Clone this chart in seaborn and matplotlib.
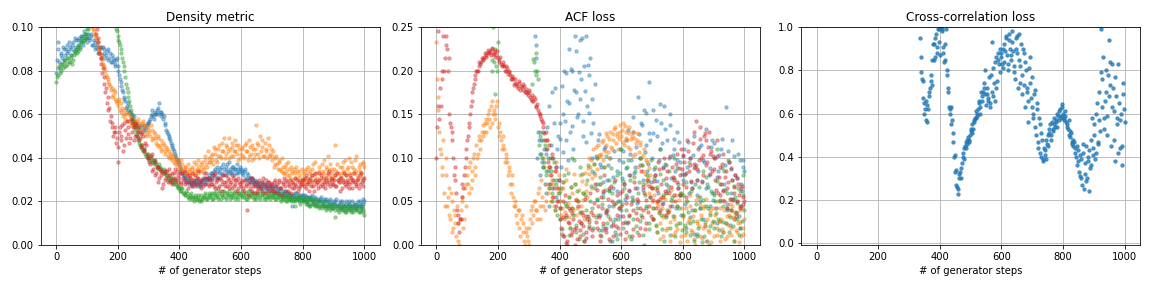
import numpy as np
import pandas as pd
import matplotlib
matplotlib.use("Agg")
import matplotlib.pyplot as plt
import seaborn as sns

nan = np.nan
steps = np.arange(0, 1001, 5)          # 0, 5, ..., 1000
steps_mid = np.arange(2, 1000, 5)      # 2, 7, ..., 997
cc_steps = np.arange(336, 1001, 4)     # 336, 340, ..., 1000
cc_steps_mid = np.arange(338, 1000, 4) # 338, 342, ..., 998

# ---------------- Density metric ----------------
density_blue = [
    0.079, 0.09, 0.084, 0.088, 0.086, 0.09, 0.087, 0.092, 0.089, 0.091, 0.09, 0.093, 0.091, 0.094, 0.092, 0.095, 0.093, 0.096, 0.094, 0.097,
    0.095, 0.097, 0.094, 0.096, 0.092, 0.093, 0.091, 0.09, 0.088, 0.091, 0.087, 0.09, 0.086, 0.089, 0.085, 0.088, 0.084, 0.086, 0.083, 0.085,
    0.082, 0.078, 0.075, 0.071, 0.068, 0.066, 0.064, 0.062, 0.061, 0.059, 0.058, 0.056, 0.055, 0.054, 0.053, 0.055, 0.052, 0.054, 0.053, 0.055,
    0.056, 0.058, 0.06, 0.059, 0.061, 0.06, 0.063, 0.065, 0.061, 0.06, 0.059, 0.055, 0.052, 0.05, 0.048, 0.046, 0.044, 0.042, 0.04, 0.039,
    0.037, 0.035, 0.033, 0.032, 0.031, 0.03, 0.029, 0.03, 0.028, 0.029, 0.028, 0.03, 0.027, 0.029, 0.028, 0.03, 0.029, 0.031, 0.03, 0.032,
    0.031, 0.033, 0.032, 0.035, 0.031, 0.034, 0.033, 0.036, 0.032, 0.035, 0.034, 0.037, 0.033, 0.035, 0.034, 0.036, 0.035, 0.033, 0.035, 0.034,
    0.035, 0.033, 0.034, 0.031, 0.033, 0.03, 0.031, 0.029, 0.03, 0.028, 0.029, 0.027, 0.028, 0.026, 0.028, 0.027, 0.026, 0.028, 0.025, 0.027,
    0.026, 0.025, 0.027, 0.024, 0.026, 0.025, 0.023, 0.025, 0.024, 0.022, 0.024, 0.023, 0.021, 0.018, 0.023, 0.022, 0.024, 0.021, 0.023, 0.022,
    0.023, 0.021, 0.022, 0.02, 0.022, 0.021, 0.023, 0.02, 0.022, 0.019, 0.021, 0.02, 0.022, 0.019, 0.021, 0.018, 0.02, 0.019, 0.021, 0.018,
    0.02, 0.019, 0.021, 0.018, 0.02, 0.017, 0.019, 0.018, 0.02, 0.017, 0.019, 0.018, 0.02, 0.017, 0.019, 0.018, 0.02, 0.018, 0.019, 0.021,
    0.02,
]
density_blue_mid = [
    0.085, 0.093, 0.081, 0.087, 0.091, 0.085, 0.09, 0.088, 0.093, 0.087, 0.092, 0.089, 0.095, 0.09, 0.094, 0.091, 0.096, 0.092, 0.098, 0.095,
    0.093, 0.095, 0.097, 0.092, 0.094, 0.09, 0.092, 0.088, 0.09, 0.086, 0.091, 0.088, 0.087, 0.09, 0.086, 0.084, 0.087, 0.085, 0.082, 0.086,
    0.08, 0.076, 0.073, 0.07, 0.067, 0.063, 0.065, 0.061, 0.06, 0.057, 0.059, 0.054, 0.056, 0.052, 0.054, 0.052, 0.053, 0.055, 0.054, 0.056,
    0.057, 0.059, 0.062, 0.058, 0.06, 0.062, 0.06, 0.061, 0.059, 0.058, 0.056, 0.053, 0.051, 0.049, 0.047, 0.045, 0.043, 0.041, 0.039, 0.038,
    0.036, 0.034, 0.032, 0.031, 0.029, 0.031, 0.028, 0.029, 0.027, 0.03, 0.029, 0.028, 0.03, 0.027, 0.029, 0.031, 0.028, 0.03, 0.031, 0.03,
    0.033, 0.03, 0.034, 0.032, 0.036, 0.031, 0.035, 0.033, 0.037, 0.032, 0.036, 0.034, 0.038, 0.033, 0.036, 0.032, 0.035, 0.037, 0.033, 0.036,
    0.034, 0.032, 0.035, 0.03, 0.032, 0.031, 0.029, 0.031, 0.028, 0.03, 0.027, 0.029, 0.027, 0.029, 0.026, 0.028, 0.025, 0.027, 0.026, 0.025,
    0.027, 0.024, 0.026, 0.025, 0.023, 0.026, 0.024, 0.022, 0.025, 0.023, 0.022, 0.024, 0.022, 0.023, 0.021, 0.024, 0.022, 0.02, 0.022, 0.023,
    0.021, 0.023, 0.02, 0.022, 0.019, 0.022, 0.021, 0.019, 0.021, 0.02, 0.018, 0.021, 0.02, 0.018, 0.02, 0.021, 0.018, 0.02, 0.019, 0.017,
    0.019, 0.02, 0.018, 0.019, 0.017, 0.02, 0.018, 0.016, 0.019, 0.018, 0.02, 0.017, 0.018, 0.019, 0.017, 0.019, 0.018, 0.02, 0.017, 0.019,
]
density_orange = [
    nan, nan, nan, nan, nan, nan, nan, nan, nan, nan, nan, nan, nan, nan, nan, nan, nan, nan, nan, nan,
    nan, nan, nan, nan, 0.099, 0.097, 0.095, 0.093, 0.09, 0.087, 0.085, 0.082, 0.08, 0.077, 0.075, 0.073, 0.072, 0.069, 0.07, 0.066,
    0.064, 0.067, 0.061, 0.063, 0.06, 0.058, 0.061, 0.057, 0.059, 0.056, 0.058, 0.055, 0.057, 0.054, 0.056, 0.053, 0.056, 0.052, 0.055, 0.051,
    0.054, 0.05, 0.053, 0.049, 0.051, 0.047, 0.05, 0.045, 0.048, 0.044, 0.046, 0.042, 0.044, 0.04, 0.042, 0.039, 0.041, 0.037, 0.039, 0.036,
    0.038, 0.035, 0.037, 0.034, 0.036, 0.033, 0.035, 0.032, 0.036, 0.033, 0.034, 0.037, 0.033, 0.036, 0.034, 0.038, 0.035, 0.039, 0.036, 0.04,
    0.038, 0.042, 0.037, 0.044, 0.039, 0.041, 0.046, 0.04, 0.043, 0.049, 0.042, 0.045, 0.04, 0.044, 0.047, 0.041, 0.043, 0.046, 0.039, 0.044,
    0.042, 0.045, 0.04, 0.047, 0.043, 0.041, 0.045, 0.039, 0.044, 0.042, 0.055, 0.046, 0.04, 0.043, 0.048, 0.041, 0.044, 0.04, 0.046, 0.042,
    0.039, 0.043, 0.037, 0.041, 0.035, 0.038, 0.034, 0.036, 0.033, 0.037, 0.032, 0.035, 0.031, 0.034, 0.03, 0.033, 0.036, 0.031, 0.034, 0.029,
    0.033, 0.03, 0.035, 0.031, 0.028, 0.034, 0.032, 0.037, 0.03, 0.033, 0.029, 0.036, 0.031, 0.034, 0.039, 0.032, 0.035, 0.03, 0.037, 0.033,
    0.031, 0.046, 0.034, 0.03, 0.036, 0.032, 0.038, 0.033, 0.029, 0.035, 0.04, 0.031, 0.036, 0.033, 0.039, 0.034, 0.03, 0.037, 0.033, 0.038,
    0.036,
]
density_orange_mid = [
    nan, nan, nan, nan, nan, nan, nan, nan, nan, nan, nan, nan, nan, nan, nan, nan, nan, nan, nan, nan,
    nan, nan, nan, 0.1, 0.098, 0.096, 0.094, 0.091, 0.088, 0.086, 0.083, 0.081, 0.078, 0.076, 0.074, 0.071, 0.068, 0.071, 0.067, 0.065,
    0.066, 0.062, 0.065, 0.059, 0.062, 0.06, 0.057, 0.06, 0.055, 0.058, 0.054, 0.057, 0.053, 0.058, 0.055, 0.052, 0.057, 0.054, 0.05, 0.053,
    0.052, 0.055, 0.048, 0.052, 0.049, 0.046, 0.049, 0.046, 0.043, 0.047, 0.043, 0.045, 0.041, 0.043, 0.04, 0.042, 0.038, 0.04, 0.037, 0.039,
    0.036, 0.039, 0.034, 0.036, 0.033, 0.037, 0.034, 0.031, 0.035, 0.038, 0.032, 0.035, 0.039, 0.034, 0.037, 0.036, 0.041, 0.037, 0.043, 0.038,
    0.041, 0.039, 0.045, 0.042, 0.038, 0.044, 0.041, 0.047, 0.043, 0.04, 0.046, 0.043, 0.049, 0.041, 0.045, 0.043, 0.048, 0.042, 0.046, 0.04,
    0.044, 0.041, 0.046, 0.043, 0.039, 0.048, 0.042, 0.046, 0.04, 0.044, 0.047, 0.042, 0.05, 0.045, 0.041, 0.047, 0.043, 0.049, 0.041, 0.044,
    0.041, 0.036, 0.04, 0.037, 0.039, 0.035, 0.04, 0.033, 0.036, 0.034, 0.038, 0.032, 0.036, 0.033, 0.035, 0.031, 0.034, 0.032, 0.03, 0.035,
    0.031, 0.034, 0.029, 0.036, 0.033, 0.03, 0.035, 0.032, 0.038, 0.031, 0.034, 0.03, 0.037, 0.033, 0.029, 0.036, 0.041, 0.032, 0.035, 0.031,
    0.035, 0.032, 0.037, 0.033, 0.029, 0.036, 0.034, 0.039, 0.032, 0.036, 0.033, 0.038, 0.03, 0.035, 0.041, 0.032, 0.036, 0.034, 0.031, 0.037,
]
density_green = [
    0.075, 0.078, 0.082, 0.08, 0.083, 0.082, 0.085, 0.083, 0.086, 0.084, 0.086, 0.085, 0.088, 0.09, 0.089, 0.092, 0.093, 0.095, 0.094, 0.097,
    0.097, 0.099, nan, nan, nan, nan, nan, nan, nan, nan, nan, nan, nan, nan, nan, nan, nan, nan, nan, 0.099,
    0.096, 0.093, 0.09, 0.086, 0.082, 0.077, 0.072, 0.068, 0.064, 0.06, 0.057, 0.054, 0.051, 0.049, 0.047, 0.046, 0.044, 0.043, 0.042, 0.041,
    0.04, 0.041, 0.039, 0.038, 0.039, 0.037, 0.036, 0.037, 0.035, 0.034, 0.035, 0.033, 0.032, 0.031, 0.032, 0.03, 0.029, 0.03, 0.028, 0.027,
    0.026, 0.025, 0.026, 0.024, 0.023, 0.024, 0.022, 0.023, 0.021, 0.022, 0.023, 0.021, 0.022, 0.02, 0.023, 0.021, 0.022, 0.024, 0.021, 0.023,
    0.022, 0.024, 0.021, 0.023, 0.025, 0.022, 0.024, 0.021, 0.023, 0.025, 0.022, 0.024, 0.023, 0.021, 0.024, 0.022, 0.025, 0.023, 0.021, 0.024,
    0.023, 0.025, 0.022, 0.024, 0.021, 0.023, 0.025, 0.022, 0.024, 0.023, 0.021, 0.024, 0.022, 0.025, 0.023, 0.021, 0.024, 0.022, 0.023, 0.021,
    0.023, 0.022, 0.024, 0.021, 0.023, 0.022, 0.02, 0.023, 0.021, 0.022, 0.02, 0.023, 0.021, 0.022, 0.02, 0.018, 0.022, 0.021, 0.023, 0.02,
    0.021, 0.02, 0.022, 0.019, 0.021, 0.018, 0.02, 0.019, 0.021, 0.018, 0.02, 0.017, 0.019, 0.018, 0.02, 0.017, 0.019, 0.018, 0.016, 0.019,
    0.017, 0.013, 0.018, 0.016, 0.019, 0.017, 0.016, 0.018, 0.015, 0.017, 0.019, 0.016, 0.018, 0.015, 0.017, 0.016, 0.018, 0.015, 0.017, 0.016,
    0.014,
]
density_green_mid = [
    0.077, 0.081, 0.079, 0.083, 0.081, 0.084, 0.082, 0.086, 0.084, 0.087, 0.083, 0.087, 0.089, 0.088, 0.091, 0.09, 0.094, 0.093, 0.096, 0.095,
    0.099, nan, nan, nan, nan, nan, nan, nan, nan, nan, nan, nan, nan, nan, nan, nan, nan, nan, nan, 0.098,
    0.094, 0.092, 0.088, 0.084, 0.08, 0.074, 0.07, 0.066, 0.062, 0.058, 0.055, 0.053, 0.05, 0.048, 0.046, 0.045, 0.043, 0.044, 0.041, 0.042,
    0.039, 0.04, 0.038, 0.037, 0.038, 0.036, 0.035, 0.036, 0.034, 0.033, 0.034, 0.032, 0.031, 0.03, 0.031, 0.029, 0.028, 0.029, 0.027, 0.026,
    0.025, 0.026, 0.024, 0.023, 0.025, 0.022, 0.021, 0.024, 0.022, 0.02, 0.022, 0.021, 0.023, 0.021, 0.02, 0.022, 0.023, 0.021, 0.022, 0.024,
    0.023, 0.021, 0.024, 0.022, 0.023, 0.021, 0.025, 0.023, 0.022, 0.024, 0.021, 0.023, 0.025, 0.022, 0.023, 0.024, 0.021, 0.022, 0.024, 0.023,
    0.022, 0.024, 0.023, 0.021, 0.025, 0.022, 0.023, 0.024, 0.021, 0.022, 0.024, 0.023, 0.021, 0.023, 0.024, 0.022, 0.021, 0.023, 0.022, 0.024,
    0.022, 0.023, 0.021, 0.022, 0.024, 0.021, 0.022, 0.021, 0.023, 0.02, 0.022, 0.021, 0.02, 0.022, 0.021, 0.02, 0.021, 0.022, 0.019, 0.021,
    0.02, 0.021, 0.019, 0.02, 0.018, 0.021, 0.019, 0.02, 0.018, 0.019, 0.018, 0.02, 0.017, 0.019, 0.018, 0.016, 0.018, 0.017, 0.019, 0.017,
    0.018, 0.016, 0.017, 0.015, 0.018, 0.016, 0.017, 0.015, 0.018, 0.016, 0.017, 0.015, 0.016, 0.018, 0.016, 0.017, 0.015, 0.016, 0.018, 0.015,
]
density_red = [
    nan, nan, nan, nan, nan, nan, nan, nan, nan, nan, nan, nan, nan, nan, nan, nan, nan, nan, nan, nan,
    nan, nan, nan, nan, nan, nan, 0.097, 0.093, 0.088, 0.083, 0.079, 0.074, 0.07, 0.065, 0.062, 0.057, 0.054, 0.05, 0.052, 0.047,
    0.038, 0.052, 0.048, 0.055, 0.046, 0.053, 0.057, 0.051, 0.049, 0.056, 0.054, 0.05, 0.055, 0.052, 0.048, 0.051, 0.046, 0.044, 0.047, 0.042,
    0.04, 0.037, 0.042, 0.035, 0.038, 0.033, 0.036, 0.031, 0.034, 0.026, 0.033, 0.03, 0.034, 0.032, 0.029, 0.033, 0.031, 0.035, 0.03, 0.032,
    0.031, 0.029, 0.033, 0.03, 0.028, 0.032, 0.029, 0.031, 0.027, 0.03, 0.032, 0.028, 0.031, 0.029, 0.026, 0.03, 0.033, 0.028, 0.031, 0.027,
    0.03, 0.028, 0.032, 0.026, 0.029, 0.031, 0.027, 0.03, 0.025, 0.029, 0.032, 0.027, 0.03, 0.028, 0.026, 0.031, 0.028, 0.03, 0.026, 0.029,
    0.027, 0.03, 0.025, 0.028, 0.016, 0.029, 0.026, 0.031, 0.027, 0.024, 0.029, 0.026, 0.03, 0.027, 0.025, 0.028, 0.03, 0.026, 0.029, 0.027,
    0.028, 0.025, 0.03, 0.027, 0.024, 0.029, 0.026, 0.028, 0.031, 0.025, 0.029, 0.027, 0.03, 0.026, 0.028, 0.031, 0.027, 0.025, 0.029, 0.028,
    0.03, 0.027, 0.032, 0.028, 0.025, 0.031, 0.029, 0.027, 0.033, 0.028, 0.026, 0.03, 0.032, 0.027, 0.029, 0.031, 0.028, 0.034, 0.027, 0.03,
    0.028, 0.032, 0.027, 0.03, 0.025, 0.031, 0.029, 0.033, 0.027, 0.03, 0.028, 0.032, 0.026, 0.03, 0.029, 0.027, 0.031, 0.028, 0.033, 0.03,
    0.031,
]
density_red_mid = [
    nan, nan, nan, nan, nan, nan, nan, nan, nan, nan, nan, nan, nan, nan, nan, nan, nan, nan, nan, nan,
    nan, nan, nan, nan, nan, nan, 0.099, 0.095, 0.091, 0.086, 0.081, 0.077, 0.072, 0.068, 0.063, 0.059, 0.056, 0.052, 0.054, 0.049,
    0.045, 0.054, 0.05, 0.043, 0.056, 0.049, 0.054, 0.047, 0.058, 0.052, 0.048, 0.056, 0.05, 0.054, 0.049, 0.045, 0.05, 0.043, 0.046, 0.04,
    0.038, 0.041, 0.034, 0.039, 0.032, 0.036, 0.029, 0.035, 0.032, 0.028, 0.034, 0.031, 0.029, 0.035, 0.03, 0.028, 0.033, 0.031, 0.034, 0.029,
    0.033, 0.028, 0.031, 0.034, 0.029, 0.026, 0.032, 0.028, 0.033, 0.029, 0.027, 0.031, 0.034, 0.028, 0.03, 0.027, 0.031, 0.033, 0.028, 0.031,
    0.028, 0.031, 0.027, 0.033, 0.03, 0.026, 0.031, 0.028, 0.032, 0.027, 0.029, 0.031, 0.026, 0.029, 0.032, 0.027, 0.03, 0.025, 0.031, 0.028,
    0.029, 0.026, 0.03, 0.027, 0.023, 0.028, 0.031, 0.025, 0.029, 0.027, 0.025, 0.028, 0.026, 0.029, 0.031, 0.024, 0.027, 0.029, 0.025, 0.028,
    0.026, 0.029, 0.025, 0.028, 0.03, 0.026, 0.023, 0.029, 0.027, 0.03, 0.025, 0.028, 0.024, 0.029, 0.026, 0.028, 0.03, 0.026, 0.027, 0.03,
    0.028, 0.031, 0.026, 0.029, 0.03, 0.027, 0.032, 0.025, 0.03, 0.029, 0.033, 0.027, 0.028, 0.031, 0.026, 0.03, 0.033, 0.029, 0.031, 0.028,
    0.03, 0.027, 0.033, 0.029, 0.031, 0.026, 0.03, 0.028, 0.032, 0.029, 0.026, 0.031, 0.029, 0.033, 0.028, 0.03, 0.026, 0.032, 0.029, 0.027,
]

# ---------------- ACF loss ----------------
acf_blue = [
    nan, nan, nan, nan, nan, nan, nan, nan, nan, nan, nan, nan, nan, nan, nan, nan, nan, nan, nan, nan,
    nan, nan, nan, nan, nan, nan, nan, nan, nan, nan, nan, nan, nan, nan, nan, nan, nan, nan, nan, nan,
    nan, nan, nan, nan, nan, nan, nan, nan, nan, nan, nan, nan, nan, nan, nan, nan, nan, nan, nan, nan,
    nan, nan, nan, nan, 0.24, 0.23, 0.13, 0.105, 0.12, 0.09, 0.11, 0.06, 0.135, 0.045, 0.1, 0.175, 0.075, 0.18, 0.055, 0.125,
    0.14, 0.09, 0.15, 0.2, 0.12, 0.165, 0.225, 0.13, 0.2, 0.11, 0.24, 0.175, 0.15, 0.235, 0.19, 0.125, 0.205, 0.24, 0.16, 0.195,
    0.215, 0.1, 0.14, 0.185, 0.07, 0.12, 0.035, 0.09, 0.06, 0.11, 0.02, 0.075, 0.045, 0.1, 0.005, 0.065, 0.03, 0.085, 0.05, 0.11,
    0.04, 0.095, 0.07, 0.12, 0.025, 0.08, 0.105, 0.055, 0.13, 0.09, 0.065, 0.17, 0.1, 0.14, 0.075, 0.155, 0.115, 0.085, 0.187, 0.12,
    0.1, 0.155, 0.08, 0.125, 0.06, 0.11, 0.14, 0.09, 0.16, 0.07, 0.12, 0.1, 0.15, 0.045, 0.11, 0.085, 0.13, 0.065, 0.095, 0.035,
    0.075, 0.11, 0.02, 0.09, 0.06, 0.1, 0.04, 0.125, 0.07, 0.01, 0.085, 0.05, 0.115, 0.03, 0.095, 0.065, 0.005, 0.08, 0.045, 0.12,
    0.06, 0.1, 0.025, 0.085, 0.05, 0.11, 0.015, 0.07, 0.158, 0.04, 0.095, 0.06, 0.12, 0.03, 0.08, 0.05, 0.105, 0.02, 0.07, 0.09,
    0.085,
]
acf_blue_mid = [
    nan, nan, nan, nan, nan, nan, nan, nan, nan, nan, nan, nan, nan, nan, nan, nan, nan, nan, nan, nan,
    nan, nan, nan, nan, nan, nan, nan, nan, nan, nan, nan, nan, nan, nan, nan, nan, nan, nan, nan, nan,
    nan, nan, nan, nan, nan, nan, nan, nan, nan, nan, nan, nan, nan, nan, nan, nan, nan, nan, nan, nan,
    nan, nan, nan, nan, 0.215, 0.1, 0.12, 0.08, 0.095, 0.13, 0.07, 0.105, 0.085, 0.16, 0.115, 0.065, 0.14, 0.09, 0.11, 0.075,
    0.122, 0.183, 0.107, 0.142, 0.197, 0.098, 0.163, 0.202, 0.137, 0.178, 0.223, 0.147, 0.198, 0.168, 0.238, 0.142, 0.177, 0.118, 0.207, 0.152,
    0.128, 0.167, 0.083, 0.102, 0.052, 0.127, 0.093, 0.017, 0.072, 0.113, 0.038, 0.092, 0.063, 0.022, 0.078, 0.108, 0.012, 0.062, 0.097, 0.033,
    0.077, 0.108, 0.053, 0.088, 0.132, 0.062, 0.098, 0.147, 0.083, 0.112, 0.048, 0.127, 0.092, 0.138, 0.063, 0.107, 0.152, 0.093, 0.128, 0.072,
    0.128, 0.087, 0.143, 0.073, 0.098, 0.162, 0.117, 0.048, 0.133, 0.092, 0.063, 0.138, 0.077, 0.103, 0.122, 0.042, 0.097, 0.118, 0.057, 0.082,
    0.102, 0.047, 0.083, 0.118, 0.032, 0.072, 0.103, 0.013, 0.092, 0.058, 0.112, 0.043, 0.073, 0.098, 0.022, 0.133, 0.067, 0.088, 0.113, 0.052,
    0.117, 0.042, 0.078, 0.103, 0.028, 0.122, 0.063, 0.092, 0.047, 0.108, 0.023, 0.087, 0.053, 0.102, 0.038, 0.077, 0.033, 0.097, 0.062, 0.098,
]
acf_orange = [
    0.233, 0.17, 0.13, 0.105, 0.08, 0.06, 0.1, 0.045, 0.065, 0.03, 0.05, 0.02, 0.035, 0.01, 0.025, 0.0, 0.04, 0.055, 0.03, 0.07,
    0.08, 0.06, 0.095, 0.075, 0.1, 0.09, 0.115, 0.105, 0.125, 0.12, 0.138, 0.13, 0.145, 0.14, 0.155, 0.135, 0.165, 0.15, 0.145, 0.16,
    0.135, 0.14, 0.12, 0.125, 0.11, 0.1, 0.095, 0.085, 0.07, 0.08, 0.055, 0.045, 0.035, 0.04, 0.02, 0.03, 0.015, 0.005, 0.02, 0.01,
    0.0, 0.03, 0.045, 0.035, 0.05, 0.04, 0.06, 0.03, 0.075, 0.045, 0.09, 0.05, 0.12, 0.065, 0.08, 0.055, 0.07, 0.04, 0.085, 0.06,
    0.05, 0.035, 0.065, 0.03, 0.075, 0.045, 0.055, 0.02, 0.06, 0.04, 0.07, 0.035, 0.05, 0.08, 0.045, 0.06, 0.03, 0.07, 0.055, 0.1,
    0.09, 0.065, 0.11, 0.08, 0.1, 0.115, 0.07, 0.105, 0.12, 0.09, 0.115, 0.125, 0.1, 0.13, 0.11, 0.12, 0.135, 0.125, 0.11, 0.13,
    0.125, 0.14, 0.115, 0.13, 0.12, 0.135, 0.11, 0.125, 0.13, 0.105, 0.12, 0.09, 0.115, 0.1, 0.085, 0.11, 0.07, 0.095, 0.06, 0.08,
    0.05, 0.03, 0.065, 0.015, 0.045, 0.025, 0.055, 0.01, 0.035, 0.06, 0.02, 0.04, 0.005, 0.05, 0.03, 0.015, 0.045, 0.025, 0.06, 0.01,
    0.035, 0.02, 0.05, 0.005, 0.03, 0.045, 0.015, 0.04, 0.0, 0.025, 0.055, 0.01, 0.035, 0.02, 0.045, 0.005, 0.03, 0.015, 0.04, 0.025,
    0.01, 0.035, 0.02, 0.05, 0.005, 0.03, 0.015, 0.04, 0.025, 0.01, 0.035, 0.02, 0.045, 0.005, 0.03, 0.015, 0.025, 0.04, 0.01, 0.02,
    0.03,
]
acf_orange_mid = [
    0.19, 0.155, 0.11, 0.09, 0.12, 0.045, 0.08, 0.055, 0.035, 0.06, 0.015, 0.04, 0.025, 0.045, 0.005, 0.03, 0.05, 0.02, 0.065, 0.045,
    0.07, 0.09, 0.065, 0.085, 0.105, 0.08, 0.1, 0.12, 0.11, 0.13, 0.125, 0.14, 0.13, 0.15, 0.145, 0.16, 0.14, 0.155, 0.15, 0.165,
    0.125, 0.13, 0.11, 0.115, 0.095, 0.105, 0.08, 0.09, 0.06, 0.07, 0.045, 0.05, 0.025, 0.04, 0.01, 0.035, 0.025, 0.0, 0.015, 0.005,
    0.02, 0.04, 0.025, 0.05, 0.04, 0.03, 0.065, 0.045, 0.055, 0.1, 0.04, 0.07, 0.06, 0.09, 0.05, 0.075, 0.045, 0.095, 0.065, 0.08,
    0.062, 0.043, 0.072, 0.038, 0.087, 0.048, 0.032, 0.067, 0.043, 0.082, 0.053, 0.042, 0.063, 0.037, 0.073, 0.052, 0.083, 0.062, 0.088, 0.082,
    0.098, 0.077, 0.093, 0.112, 0.087, 0.103, 0.102, 0.118, 0.097, 0.108, 0.128, 0.107, 0.122, 0.113, 0.127, 0.133, 0.117, 0.128, 0.122, 0.138,
    0.132, 0.118, 0.137, 0.123, 0.112, 0.128, 0.122, 0.102, 0.123, 0.117, 0.128, 0.107, 0.118, 0.092, 0.103, 0.082, 0.098, 0.077, 0.088, 0.067,
    0.042, 0.058, 0.022, 0.048, 0.037, 0.007, 0.043, 0.032, 0.053, 0.017, 0.038, 0.027, 0.063, 0.012, 0.033, 0.057, 0.018, 0.052, 0.003, 0.042,
    0.032, 0.012, 0.043, 0.027, 0.058, 0.017, 0.033, 0.007, 0.052, 0.028, 0.022, 0.047, 0.008, 0.042, 0.023, 0.053, 0.017, 0.037, 0.003, 0.043,
    0.027, 0.043, 0.012, 0.028, 0.042, 0.018, 0.052, 0.007, 0.033, 0.023, 0.047, 0.012, 0.032, 0.038, 0.017, 0.037, 0.003, 0.027, 0.043, 0.013,
]
acf_green = [
    nan, nan, nan, nan, nan, nan, nan, nan, nan, nan, nan, nan, nan, nan, nan, nan, nan, nan, nan, nan,
    nan, nan, nan, nan, nan, nan, nan, nan, nan, nan, nan, nan, nan, nan, nan, nan, 0.212, 0.25, 0.173, 0.205,
    0.233, nan, nan, nan, nan, nan, nan, nan, nan, nan, nan, nan, nan, nan, nan, nan, nan, nan, nan, nan,
    nan, nan, 0.185, 0.213, 0.2, 0.22, 0.19, 0.13, 0.105, 0.12, 0.095, 0.085, 0.11, 0.07, 0.09, 0.06, 0.1, 0.04, 0.075, 0.05,
    0.03, 0.065, 0.01, 0.08, 0.045, 0.0, 0.055, 0.02, 0.1, 0.035, 0.07, 0.015, 0.05, 0.09, 0.025, 0.06, 0.005, 0.04, 0.075, 0.03,
    0.05, 0.085, 0.02, 0.065, 0.1, 0.035, 0.07, 0.01, 0.055, 0.09, 0.04, 0.025, 0.075, 0.005, 0.06, 0.045, 0.015, 0.08, 0.03, 0.05,
    0.11, 0.02, 0.065, 0.04, 0.09, 0.01, 0.075, 0.05, 0.03, 0.085, 0.015, 0.06, 0.1, 0.035, 0.07, 0.0, 0.045, 0.08, 0.025, 0.055,
    0.065, 0.03, 0.09, 0.015, 0.05, 0.11, 0.035, 0.075, 0.005, 0.06, 0.04, 0.085, 0.02, 0.055, 0.1, 0.01, 0.045, 0.07, 0.025, 0.06,
    0.035, 0.08, 0.015, 0.05, 0.095, 0.025, 0.065, 0.005, 0.04, 0.075, 0.02, 0.055, 0.03, 0.085, 0.01, 0.045, 0.07, 0.0, 0.035, 0.06,
    0.02, 0.05, 0.11, 0.03, 0.07, 0.01, 0.045, 0.085, 0.025, 0.06, 0.015, 0.04, 0.075, 0.005, 0.055, 0.03, 0.065, 0.02, 0.045, 0.08,
    0.04,
]
acf_green_mid = [
    nan, nan, nan, nan, nan, nan, nan, nan, nan, nan, nan, nan, nan, nan, nan, nan, nan, nan, nan, nan,
    nan, nan, nan, nan, nan, nan, nan, nan, nan, nan, nan, nan, nan, nan, nan, nan, 0.2, 0.21, 0.225, 0.2,
    nan, nan, nan, nan, nan, nan, nan, nan, nan, nan, nan, nan, nan, nan, nan, nan, nan, nan, nan, nan,
    nan, nan, nan, 0.21, 0.195, 0.2, 0.115, 0.125, 0.1, 0.09, 0.115, 0.08, 0.1, 0.065, 0.085, 0.05, 0.095, 0.07, 0.035, 0.06,
    0.042, 0.018, 0.072, 0.048, 0.032, 0.083, 0.012, 0.067, 0.043, 0.097, 0.023, 0.062, 0.007, 0.038, 0.082, 0.013, 0.057, 0.033, 0.092, 0.022,
    0.068, 0.042, 0.093, 0.032, 0.053, 0.017, 0.078, 0.047, 0.022, 0.063, 0.102, 0.033, 0.062, 0.088, 0.027, 0.072, 0.048, 0.007, 0.042, 0.083,
    0.047, 0.073, 0.027, 0.058, 0.097, 0.033, 0.007, 0.052, 0.078, 0.022, 0.043, 0.072, 0.028, 0.092, 0.012, 0.058, 0.042, 0.073, 0.018, 0.098,
    0.043, 0.077, 0.023, 0.067, 0.038, 0.082, 0.018, 0.057, 0.093, 0.032, 0.068, 0.012, 0.052, 0.033, 0.077, 0.023, 0.088, 0.042, 0.058, 0.017,
    0.057, 0.023, 0.072, 0.038, 0.012, 0.062, 0.028, 0.088, 0.047, 0.013, 0.067, 0.042, 0.003, 0.052, 0.027, 0.078, 0.043, 0.022, 0.062, 0.028,
    0.058, 0.037, 0.073, 0.017, 0.052, 0.088, 0.027, 0.063, 0.042, 0.098, 0.032, 0.053, 0.022, 0.068, 0.037, 0.048, 0.012, 0.062, 0.028, 0.057,
]
acf_red = [
    0.1, 0.245, 0.145, 0.16, 0.19, 0.2, 0.24, 0.225, 0.215, 0.14, 0.13, 0.1, 0.09, 0.06, 0.035, 0.015, 0.03, 0.07, 0.08, 0.1,
    0.12, 0.135, 0.15, 0.165, 0.18, 0.19, 0.2, 0.2, 0.205, 0.21, 0.213, 0.216, 0.218, 0.22, 0.22, 0.222, 0.225, 0.219, 0.223, 0.218,
    0.215, 0.212, 0.208, 0.21, 0.205, 0.2, 0.203, 0.198, 0.195, 0.19, 0.192, 0.186, 0.185, 0.18, 0.188, 0.182, 0.178, 0.183, 0.176, 0.174,
    0.178, 0.17, 0.172, 0.165, 0.168, 0.16, 0.155, 0.15, 0.145, 0.14, 0.128, 0.11, 0.12, 0.09, 0.07, 0.1, 0.055, 0.085, 0.045, 0.065,
    0.03, 0.02, 0.05, 0.01, 0.035, 0.005, 0.025, 0.04, 0.015, 0.03, 0.0, 0.02, 0.045, 0.01, 0.025, 0.035, 0.005, 0.015, 0.03, 0.02,
    0.06, 0.01, 0.035, 0.07, 0.02, 0.045, 0.005, 0.055, 0.025, 0.08, 0.015, 0.04, 0.065, 0.03, 0.05, 0.01, 0.075, 0.035, 0.02, 0.06,
    0.045, 0.025, 0.07, 0.015, 0.055, 0.035, 0.08, 0.01, 0.04, 0.065, 0.03, 0.05, 0.02, 0.085, 0.04, 0.06, 0.025, 0.075, 0.045, 0.055,
    0.065, 0.03, 0.08, 0.05, 0.095, 0.04, 0.07, 0.055, 0.1, 0.035, 0.085, 0.06, 0.045, 0.09, 0.075, 0.05, 0.105, 0.065, 0.08, 0.11,
    0.07, 0.095, 0.055, 0.12, 0.085, 0.1, 0.065, 0.13, 0.09, 0.075, 0.11, 0.135, 0.1, 0.08, 0.125, 0.12, 0.095, 0.13, 0.105, 0.085,
    0.1, 0.075, 0.12, 0.06, 0.09, 0.07, 0.105, 0.05, 0.085, 0.065, 0.095, 0.04, 0.075, 0.06, 0.08, 0.05, 0.07, 0.045, 0.065, 0.055,
    0.05,
]
acf_red_mid = [
    0.135, 0.16, 0.18, 0.2, 0.24, 0.215, 0.23, 0.2, 0.15, 0.135, 0.12, 0.08, 0.075, 0.04, 0.025, 0.03, 0.055, 0.065, 0.09, 0.11,
    0.125, 0.14, 0.16, 0.175, 0.185, 0.195, 0.2, 0.21, 0.208, 0.215, 0.212, 0.22, 0.216, 0.224, 0.221, 0.218, 0.226, 0.22, 0.216, 0.222,
    0.21, 0.216, 0.205, 0.207, 0.2, 0.205, 0.196, 0.2, 0.19, 0.194, 0.184, 0.19, 0.183, 0.186, 0.178, 0.181, 0.185, 0.175, 0.179, 0.172,
    0.175, 0.168, 0.165, 0.17, 0.158, 0.162, 0.152, 0.148, 0.142, 0.135, 0.12, 0.13, 0.095, 0.115, 0.08, 0.105, 0.065, 0.09, 0.05, 0.075,
    0.042, 0.013, 0.032, 0.058, 0.002, 0.027, 0.043, 0.012, 0.037, 0.018, 0.052, 0.007, 0.028, 0.017, 0.038, 0.022, 0.053, 0.008, 0.033, 0.027,
    0.038, 0.017, 0.048, 0.027, 0.063, 0.032, 0.012, 0.043, 0.062, 0.018, 0.037, 0.053, 0.007, 0.068, 0.023, 0.047, 0.022, 0.058, 0.042, 0.013,
    0.062, 0.033, 0.007, 0.048, 0.027, 0.063, 0.047, 0.018, 0.072, 0.037, 0.053, 0.012, 0.043, 0.032, 0.067, 0.018, 0.052, 0.038, 0.068, 0.033,
    0.052, 0.073, 0.042, 0.063, 0.087, 0.053, 0.047, 0.088, 0.062, 0.077, 0.038, 0.102, 0.067, 0.078, 0.057, 0.093, 0.072, 0.088, 0.058, 0.087,
    0.103, 0.082, 0.067, 0.108, 0.092, 0.073, 0.117, 0.093, 0.142, 0.087, 0.098, 0.122, 0.072, 0.103, 0.128, 0.092, 0.113, 0.082, 0.108, 0.102,
    0.087, 0.063, 0.102, 0.078, 0.057, 0.093, 0.062, 0.078, 0.042, 0.072, 0.053, 0.088, 0.052, 0.067, 0.033, 0.077, 0.058, 0.042, 0.068, 0.047,
]

# ---------------- Cross-correlation loss ----------------
cc_blue = [
    0.95, 0.79, 0.75, 0.65, 0.62, 0.57, 0.64, 0.68, 0.72, 0.78, 0.85, 0.92, 0.86, 0.97, 0.91, 0.99, 0.87, 1.0, 0.99, 0.91, 0.85, 0.99, 0.78, 0.72, 0.62,
    0.63, 0.57, 0.51, 0.41, 0.34, 0.26, 0.23, 0.32, 0.3, 0.37, 0.4, 0.44, 0.47, 0.46, 0.49, 0.48, 0.52, 0.55, 0.53, 0.57, 0.58, 0.6, 0.62, 0.65, 0.63,
    0.68, 0.7, 0.72, 0.8, 0.69, 0.66, 0.77, 0.65, 0.93, 0.68, 0.74, 0.84, 0.72, 0.88, 0.83, 0.9, 0.86, 0.81, 0.92, 0.89, 0.95, 0.83, 0.97, 0.9, 0.87,
    0.93, 0.82, 0.76, 0.9, 0.96, 0.85, 0.74, 0.92, 0.69, 0.88, 0.63, 0.8, 0.72, 0.56, 0.86, 0.67, 0.77, 0.6, 0.71, 0.5, 0.65, 0.44, 0.55, 0.4, 0.48,
    0.38, 0.43, 0.39, 0.46, 0.5, 0.53, 0.48, 0.56, 0.52, 0.55, 0.57, 0.54, 0.59, 0.61, 0.58, 0.645, 0.6, 0.57, 0.59, 0.55, 0.53, 0.5, 0.52, 0.47, 0.45,
    0.47, 0.42, 0.45, 0.38, 0.33, 0.41, 0.3, 0.46, 0.25, 0.37, 0.29, 0.4, 0.24, 0.35, 0.48, 0.41, 0.55, 0.39, 0.6, 0.46, 0.7, 0.52, 0.99, 0.76, 0.58,
    0.66, 0.8, 0.5, 0.94, 0.73, 0.45, 0.83, 0.61, 0.38, 0.68, 0.55, 0.83, 0.44, 0.6, 0.36, 0.74, 0.56,
]
cc_blue_mid = [
    0.86, 0.76, 0.67, 0.6, 0.66, 0.56, 0.62, 0.7, 0.75, 0.73, 0.92, 0.85, 0.95, 0.88, 0.99, 0.93, 1.0, 0.98, 0.88, 0.84, 0.92, 0.8, 0.7, 0.63, 0.6,
    0.55, 0.47, 0.4, 0.33, 0.27, 0.25, 0.3, 0.33, 0.35, 0.42, 0.39, 0.45, 0.44, 0.48, 0.47, 0.5, 0.53, 0.51, 0.56, 0.58, 0.61, 0.59, 0.66, 0.6, 0.7,
    0.66, 0.74, 0.69, 0.64, 0.72, 0.67, 0.63, 0.78, 0.7, 0.81, 0.66, 0.86, 0.75, 0.85, 0.79, 0.88, 0.83, 0.9, 0.84, 0.96, 0.87, 0.8, 0.94, 0.85, 0.98,
    0.89, 0.79, 0.95, 0.88, 0.72, 0.97, 0.82, 0.78, 0.9, 0.73, 0.84, 0.7, 0.66, 0.81, 0.74, 0.63, 0.58, 0.69, 0.54, 0.62, 0.47, 0.58, 0.42, 0.51, 0.39,
    0.44, 0.41, 0.48, 0.45, 0.51, 0.55, 0.5, 0.53, 0.58, 0.54, 0.56, 0.6, 0.57, 0.62, 0.59, 0.63, 0.58, 0.61, 0.56, 0.54, 0.57, 0.49, 0.51, 0.46, 0.48,
    0.44, 0.4, 0.36, 0.43, 0.31, 0.39, 0.27, 0.42, 0.32, 0.45, 0.3, 0.38, 0.43, 0.36, 0.58, 0.44, 0.5, 0.42, 0.65, 0.47, 0.57, 0.79, 0.63, 0.86, 0.53,
    0.7, 0.59, 0.78, 0.68, 0.84, 0.63, 0.72, 0.48, 0.77, 0.58, 0.42, 0.65, 0.57, 0.45, 0.69, 0.62,
]

for arr in (density_blue, density_orange, density_green, density_red,
            acf_blue, acf_orange, acf_green, acf_red):
    assert len(arr) == len(steps), len(arr)
for arr in (density_blue_mid, density_orange_mid, density_green_mid, density_red_mid,
            acf_blue_mid, acf_orange_mid, acf_green_mid, acf_red_mid):
    assert len(arr) == len(steps_mid), len(arr)
assert len(cc_blue) == len(cc_steps), len(cc_blue)
assert len(cc_blue_mid) == len(cc_steps_mid), len(cc_blue_mid)

C_BLUE, C_ORANGE, C_GREEN, C_RED = "#1f77b4", "#ff7f0e", "#2ca02c", "#d62728"

fig, axes = plt.subplots(1, 3, figsize=(16, 4), dpi=72)
fig.subplots_adjust(left=0.0353, right=0.9896, top=0.906, bottom=0.149, wspace=0.122)


def scat(ax, xa, ya, xb, yb, color, alpha=0.42):
    x = np.concatenate([xa, xb])
    y = np.concatenate([np.asarray(ya, float), np.asarray(yb, float)])
    sns.scatterplot(x=x, y=y, color=color, edgecolor=color, s=11,
                    linewidth=1.0, alpha=alpha, ax=ax)


ax = axes[0]
for a, b, c in ((density_blue, density_blue_mid, C_BLUE),
                (density_orange, density_orange_mid, C_ORANGE),
                (density_green, density_green_mid, C_GREEN),
                (density_red, density_red_mid, C_RED)):
    scat(ax, steps, a, steps_mid, b, c)
ax.set_ylim(0, 0.1)
ax.set_title("Density metric", fontsize=12)

ax = axes[1]
for a, b, c in ((acf_blue, acf_blue_mid, C_BLUE),
                (acf_orange, acf_orange_mid, C_ORANGE),
                (acf_green, acf_green_mid, C_GREEN),
                (acf_red, acf_red_mid, C_RED)):
    scat(ax, steps, a, steps_mid, b, c)
ax.set_ylim(0, 0.25)
ax.set_title("ACF loss", fontsize=12)

ax = axes[2]
scat(ax, cc_steps, cc_blue, cc_steps_mid, cc_blue_mid, C_BLUE, alpha=0.75)
ax.set_ylim(-0.008, 1.0)
ax.set_title("Cross-correlation loss", fontsize=12)

for ax in axes:
    ax.set_xlim(-50, 1050)
    ax.set_xticks([0, 200, 400, 600, 800, 1000])
    ax.set_xlabel("# of generator steps", fontsize=10)
    ax.set_ylabel("")
    ax.grid(True, color="#b0b0b0", linewidth=0.8)
    ax.set_axisbelow(True)
    ax.tick_params(labelsize=10)
    for sp in ax.spines.values():
        sp.set_color("black")
        sp.set_linewidth(0.8)

fig.savefig("out.png", dpi=72, facecolor="white")
